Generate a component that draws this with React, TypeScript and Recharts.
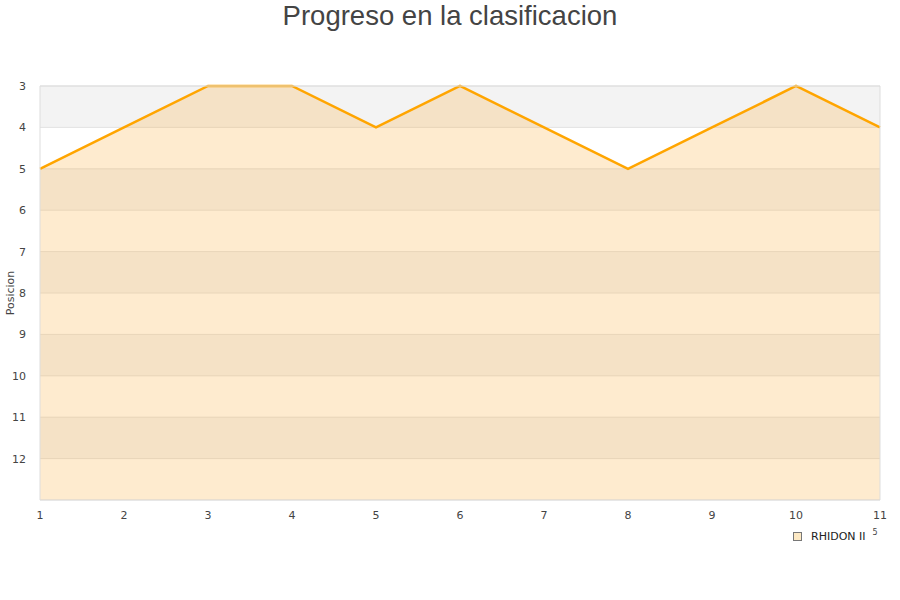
import { AreaChart, Area, XAxis, YAxis, CartesianGrid, ReferenceLine } from 'recharts';

const jornadas = [1, 2, 3, 4, 5, 6, 7, 8, 9, 10, 11];
const posiciones = [5, 4, 3, 3, 4, 3, 4, 5, 4, 3, 4];
const ticksPosicion = [3, 4, 5, 6, 7, 8, 9, 10, 11, 12, 13];
const equipo = 'RHIDON II';

const datos = jornadas.map((j, i) => ({ jornada: j, posicion: posiciones[i] }));

const fuenteEjes = '"DejaVu Sans", sans-serif';

export default function App() {
    return (
        <div style={{ position: 'absolute', left: 0, top: 0, width: 900, height: 600, background: '#fff' }}>
            <div
                style={{
                    position: 'absolute', left: 0, top: 0, width: 900, textAlign: 'center',
                    fontFamily: '"Liberation Sans", Arial, sans-serif', fontSize: 27.5, color: '#444', lineHeight: '32px',
                }}
            >
                Progreso en la clasificacion
            </div>
            <AreaChart width={900} height={600} data={datos} margin={{ top: 86, right: 20, left: 0, bottom: 70 }}>
                <CartesianGrid
                    vertical={false}
                    stroke="#e2e2e2"
                    horizontalFill={['#f3f3f3', '#ffffff']}
                    fillOpacity={1}
                />
                <XAxis
                    dataKey="jornada"
                    type="number"
                    domain={[1, 11]}
                    ticks={jornadas}
                    tickLine={false}
                    axisLine={{ stroke: '#dddddd' }}
                    tick={{ fontSize: 11, fill: '#444', fontFamily: fuenteEjes }}
                    tickMargin={5}
                />
                <YAxis
                    reversed
                    type="number"
                    domain={[3, 13]}
                    ticks={ticksPosicion}
                    tickFormatter={(v: number) => (v === 13 ? '' : String(v))}
                    width={40}
                    tickLine={false}
                    axisLine={{ stroke: '#dddddd' }}
                    tick={{ fontSize: 11, fill: '#444', fontFamily: fuenteEjes }}
                    tickMargin={8}
                    label={{
                        value: 'Posicion', angle: -90, position: 'insideLeft', offset: 10,
                        style: { textAnchor: 'middle', fontSize: 11, fill: '#444', fontFamily: fuenteEjes },
                    }}
                />
                <ReferenceLine x={11} stroke="#dddddd" />
                <ReferenceLine y={3} stroke="#dddddd" />
                <Area
                    type="linear"
                    dataKey="posicion"
                    baseValue={13}
                    stroke="#ffa500"
                    strokeWidth={2.5}
                    fill="#fbb040"
                    fillOpacity={0.25}
                    dot={false}
                    activeDot={false}
                    isAnimationActive={false}
                />
            </AreaChart>
            <div
                style={{
                    position: 'absolute', left: 793, top: 530, display: 'flex', alignItems: 'center',
                    fontFamily: fuenteEjes, fontSize: 11, color: '#222',
                }}
            >
                <span style={{ width: 7, height: 7, background: '#fde9c4', border: '1px solid #777', marginRight: 9 }} />
                <span>{equipo}</span>
                <span style={{ fontSize: 8, marginLeft: 7, position: 'relative', top: -4, color: '#444' }}>5</span>
            </div>
        </div>
    );
}
